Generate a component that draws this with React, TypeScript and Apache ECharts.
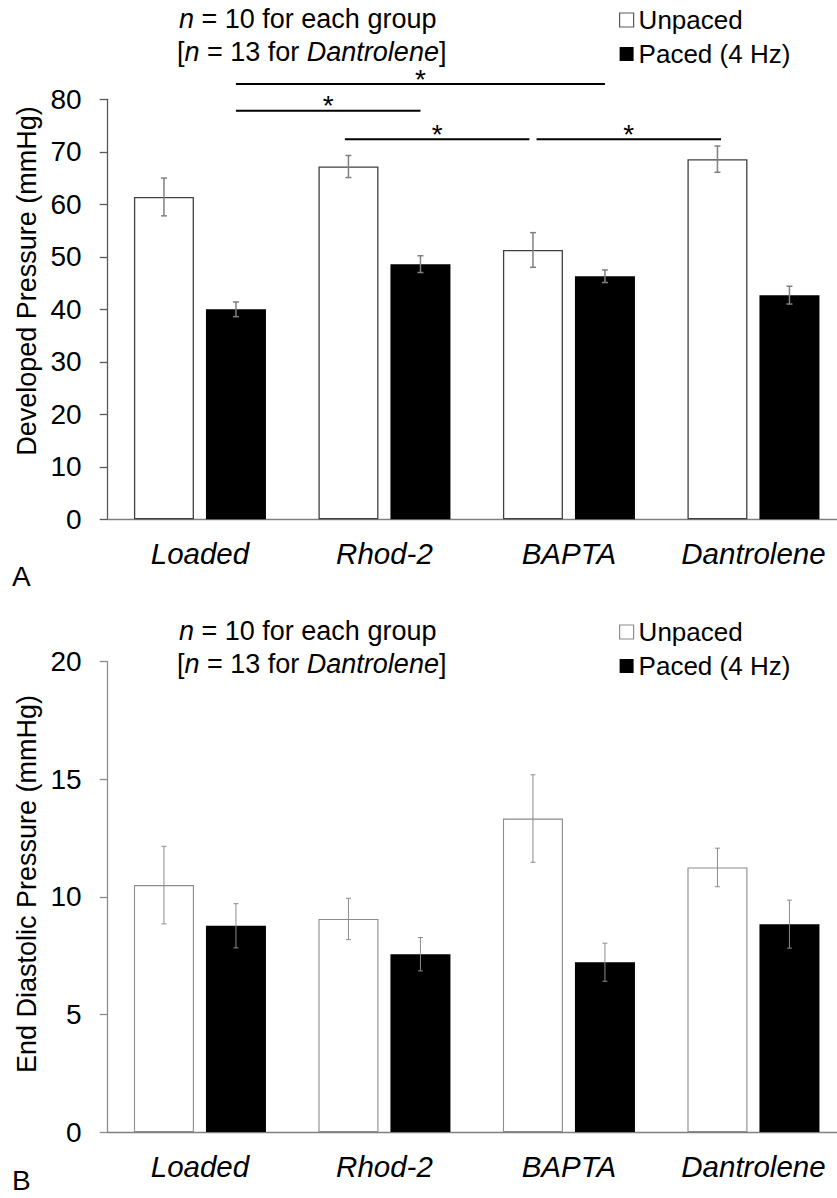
import React, { useEffect, useRef } from "react";
import * as echarts from "echarts";

// Groups on the x axis
const categories = ["Loaded", "Rhod-2", "BAPTA", "Dantrolene"];

// Panel A: developed pressure (mmHg), mean and SEM
const devUnpaced = [61.4, 67.2, 51.3, 68.6];
const devUnpacedErr = [3.6, 2.1, 3.3, 2.5];
const devPaced = [40.0, 48.6, 46.3, 42.7];
const devPacedErr = [1.4, 1.6, 1.2, 1.7];

// Panel B: end diastolic pressure (mmHg), mean and SEM
const edpUnpaced = [10.5, 9.06, 13.33, 11.25];
const edpUnpacedErr = [1.65, 0.88, 1.86, 0.82];
const edpPaced = [8.77, 7.56, 7.22, 8.84];
const edpPacedErr = [0.94, 0.71, 0.81, 1.02];

// Value axes
const devAxis = { min: 0, max: 80, interval: 10 };
const edpAxis = { min: 0, max: 20, interval: 5 };

// Significance brackets for panel A: [category, bar] pairs and bracket height (mmHg)
// bar: 0 = unpaced, 1 = paced
const devBrackets = [
  { from: [0, 1], to: [2, 1], level: 82.9, shift: 0 },
  { from: [0, 1], to: [1, 1], level: 77.8, shift: 0 },
  { from: [1, 0], to: [2, 0], level: 72.4, shift: -3.6 },
  { from: [2, 0], to: [3, 0], level: 72.4, shift: 3.6 },
];

const seriesNames = ["Unpaced", "Paced (4 Hz)"];

const FONT = "'Liberation Sans', Arial, Helvetica, sans-serif";
const BAR_W = 60;
const BAR_GAP = 12;
const HALF = (BAR_W + BAR_GAP) / 2;

function errorSeries(
  means: number[],
  errs: number[],
  offset: number,
  axisIndex: number,
  color: string,
  width: number,
  cap: number
) {
  return {
    type: "custom",
    xAxisIndex: axisIndex,
    yAxisIndex: axisIndex,
    z: 5,
    silent: true,
    encode: { x: 0, y: 1 },
    data: means.map((m, i) => [i, m, errs[i]]),
    renderItem: (_params: any, api: any) => {
      const cat = api.value(0);
      const mean = api.value(1);
      const err = api.value(2);
      const x = api.coord([cat, mean])[0] + offset;
      const yTop = api.coord([cat, mean + err])[1];
      const yBot = api.coord([cat, mean - err])[1];
      const style = { stroke: color, lineWidth: width };
      return {
        type: "group",
        children: [
          { type: "line", shape: { x1: x, y1: yTop, x2: x, y2: yBot }, style },
          { type: "line", shape: { x1: x - cap, y1: yTop, x2: x + cap, y2: yTop }, style },
          { type: "line", shape: { x1: x - cap, y1: yBot, x2: x + cap, y2: yBot }, style },
        ],
      };
    },
  };
}

function valueAxis(cfg: { min: number; max: number; interval: number }, gridIndex: number, color: string) {
  return {
    type: "value",
    gridIndex,
    min: cfg.min,
    max: cfg.max,
    interval: cfg.interval,
    splitLine: { show: false },
    axisLine: { show: true, lineStyle: { color, width: 1.3 } },
    axisTick: { show: true, inside: false, length: 8, lineStyle: { color, width: 1.3 } },
    axisLabel: { color: "#000", fontSize: 28, fontFamily: FONT, margin: 26 },
  };
}

function categoryAxis(gridIndex: number, color: string) {
  return {
    type: "category",
    gridIndex,
    data: categories,
    axisLine: { show: true, lineStyle: { color, width: 1.3 } },
    axisTick: { show: false },
    axisLabel: {
      interval: 0,
      hideOverlap: false,
      color: "#000",
      fontSize: 29.5,
      fontStyle: "italic",
      fontFamily: FONT,
      margin: 19,
    },
  };
}

function annotation(top: number) {
  return [
    {
      type: "text",
      left: 179,
      top,
      style: {
        text: "{i|n} = 10 for each group",
        font: `27px ${FONT}`,
        fill: "#000",
        rich: { i: { fontStyle: "italic", fontSize: 27, fontFamily: FONT } },
      },
    },
    {
      type: "text",
      left: 177,
      top: top + 33,
      style: {
        text: "[{i|n} = 13 for {i|Dantrolene}]",
        font: `27px ${FONT}`,
        fill: "#000",
        rich: { i: { fontStyle: "italic", fontSize: 27, fontFamily: FONT } },
      },
    },
  ];
}

function legendBlock(top: number, border: string) {
  return {
    orient: "vertical",
    left: 614,
    top,
    itemWidth: 14,
    itemHeight: 14,
    itemGap: 8,
    icon: "rect",
    selectedMode: false,
    data: [
      { name: seriesNames[0], itemStyle: { color: "#fff", borderColor: border, borderWidth: 1.2 } },
      { name: seriesNames[1], itemStyle: { color: "#000" } },
    ],
    textStyle: { color: "#000", fontSize: 26, fontFamily: FONT },
  };
}

export default function App() {
  const ref = useRef<HTMLDivElement>(null);

  useEffect(() => {
    if (!ref.current) return;
    const chart = echarts.init(ref.current, null, { renderer: "svg" });

    const topAxisColor = "#595959";
    const botAxisColor = "#8c8c8c";

    const option: any = {
      animation: false,
      backgroundColor: "#fff",
      grid: [
        { left: 107.7, top: 99.3, width: 738, height: 420 },
        { left: 107.7, top: 661.7, width: 738, height: 470.3 },
      ],
      legend: [legendBlock(2, "#595959"), legendBlock(614, "#8c8c8c")],
      xAxis: [categoryAxis(0, "#7f7f7f"), categoryAxis(1, "#7f7f7f")],
      yAxis: [valueAxis(devAxis, 0, topAxisColor), valueAxis(edpAxis, 1, botAxisColor)],
      series: [
        {
          name: seriesNames[0],
          type: "bar",
          xAxisIndex: 0,
          yAxisIndex: 0,
          barWidth: BAR_W,
          barGap: "20%",
          data: devUnpaced,
          itemStyle: { color: "#fff", borderColor: "#404040", borderWidth: 1.3 },
        },
        {
          name: seriesNames[1],
          type: "bar",
          xAxisIndex: 0,
          yAxisIndex: 0,
          barWidth: BAR_W,
          barGap: "20%",
          data: devPaced,
          itemStyle: { color: "#000" },
        },
        {
          name: seriesNames[0],
          type: "bar",
          xAxisIndex: 1,
          yAxisIndex: 1,
          barWidth: BAR_W,
          barGap: "20%",
          data: edpUnpaced,
          itemStyle: { color: "#fff", borderColor: "#8c8c8c", borderWidth: 1.1 },
        },
        {
          name: seriesNames[1],
          type: "bar",
          xAxisIndex: 1,
          yAxisIndex: 1,
          barWidth: BAR_W,
          barGap: "20%",
          data: edpPaced,
          itemStyle: { color: "#000" },
        },
        errorSeries(devUnpaced, devUnpacedErr, -HALF, 0, "#808080", 1.5, 3),
        errorSeries(devPaced, devPacedErr, HALF, 0, "#808080", 1.5, 3),
        errorSeries(edpUnpaced, edpUnpacedErr, -HALF, 1, "#8c8c8c", 1, 2.5),
        errorSeries(edpPaced, edpPacedErr, HALF, 1, "#8c8c8c", 1, 2.5),
      ],
    };
    chart.setOption(option);

    // Brackets and stars placed through the panel A axes
    const barX = (cat: number, bar: number) => {
      const p = chart.convertToPixel({ xAxisIndex: 0, yAxisIndex: 0 }, [cat, 0]) as number[];
      return p[0] + (bar === 0 ? -HALF : HALF);
    };
    const levelY = (v: number) =>
      (chart.convertToPixel({ xAxisIndex: 0, yAxisIndex: 0 }, [0, v]) as number[])[1];

    const bracketEls: any[] = [];
    devBrackets.forEach((b) => {
      const x1 = barX(b.from[0], b.from[1]) + b.shift;
      const x2 = barX(b.to[0], b.to[1]) + b.shift;
      const y = levelY(b.level);
      bracketEls.push({
        type: "line",
        shape: { x1, y1: y, x2, y2: y },
        style: { stroke: "#000", lineWidth: 2 },
      });
      bracketEls.push({
        type: "text",
        x: (x1 + x2) / 2,
        y: y - 5,
        style: {
          text: "*",
          font: `28px ${FONT}`,
          fill: "#000",
          align: "center",
          verticalAlign: "middle",
        },
      });
    });

    const graphic: any[] = [
      ...annotation(5),
      ...annotation(617),
      ...bracketEls,
      {
        type: "text",
        x: 27,
        y: 281,
        rotation: Math.PI / 2,
        style: {
          text: "Developed Pressure (mmHg)",
          font: `27px ${FONT}`,
          fill: "#000",
          align: "center",
          verticalAlign: "middle",
        },
      },
      {
        type: "text",
        x: 27,
        y: 884,
        rotation: Math.PI / 2,
        style: {
          text: "End Diastolic Pressure (mmHg)",
          font: `27px ${FONT}`,
          fill: "#000",
          align: "center",
          verticalAlign: "middle",
        },
      },
      {
        type: "text",
        left: 12,
        top: 562,
        style: { text: "A", font: `28px ${FONT}`, fill: "#000" },
      },
      {
        type: "text",
        left: 12,
        top: 1166,
        style: { text: "B", font: `28px ${FONT}`, fill: "#000" },
      },
    ];
    chart.setOption({ graphic });

    return () => chart.dispose();
  }, []);

  // The chart is laid out a little wider than the page so the last band is cut at the edge
  return (
    <div
      style={{
        position: "absolute",
        left: 0,
        top: 0,
        width: 837,
        height: 1198,
        overflow: "hidden",
        background: "#fff",
      }}
    >
      <div ref={ref} style={{ width: 860, height: 1198 }} />
    </div>
  );
}
